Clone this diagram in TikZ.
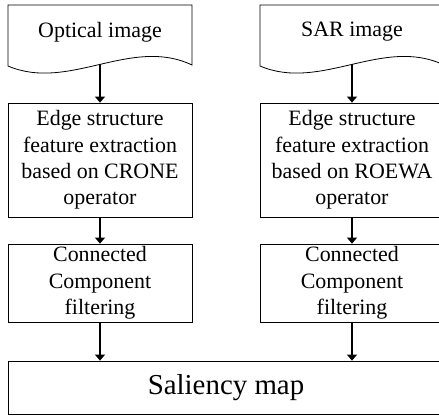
\documentclass[tikz,border=0pt]{standalone}
\usepackage{fontspec}
\setmainfont{Liberation Serif}
\usetikzlibrary{arrows.meta}

\tikzset{
  outline/.style={line width=0.8pt},
  box/.style={draw, outline, minimum width=184bp, inner sep=0pt, align=center,
    font=\fontsize{22}{26.5}\selectfont},
  doctext/.style={inner sep=0pt, align=center, font=\fontsize{22}{26.5}\selectfont},
  arr/.style={-{Triangle[length=6bp,width=10bp]}, line width=1.2pt},
}

\begin{document}
\begin{tikzpicture}[x=1bp,y=-1bp]
    % frame (right column runs past the edge)
    \clip (0,0) rectangle (439,416);
    % optical branch:
    \node[doctext] (optdoc) at (100,32) {Optical image};
    \draw [outline] (8,66) .. controls (69,92) and (131,36) .. (192,65) -- (192,5) -- (8,5) -- cycle;
    \coordinate (optout) at (100,64);
    \node[box, minimum height=114bp] (optedge) at (100,160) {Edge structure\\feature extraction\\based on CRONE\\operator};
    \node[box, minimum height=78bp] (optfilt) at (100,283) {Connected\\Component\\filtering};
    % SAR branch:
    \node[doctext] (sardoc) at (352,32) {SAR image};
    \draw [outline] (260,66) .. controls (321,92) and (383,36) .. (444,65) -- (444,5) -- (260,5) -- cycle;
    \coordinate (sarout) at (352,64);
    \node[box, minimum height=114bp] (saredge) at (352,160) {Edge structure\\feature extraction\\based on ROEWA\\operator};
    \node[box, minimum height=78bp] (sarfilt) at (352,283) {Connected\\Component\\filtering};
    % fusion:
    \node[box, minimum width=436bp, minimum height=53bp, font=\fontsize{29}{34}\selectfont] (sal) at (226,387.5) {Saliency map};
    % arrows:
    \draw [arr] (optout) -- (optedge);
    \draw [arr] (optedge) -- (optfilt);
    \draw [arr] (optfilt) -- (optfilt.south |- sal.north);
    \draw [arr] (sarout) -- (saredge);
    \draw [arr] (saredge) -- (sarfilt);
    \draw [arr] (sarfilt) -- (sarfilt.south |- sal.north);
\end{tikzpicture}
\end{document}
